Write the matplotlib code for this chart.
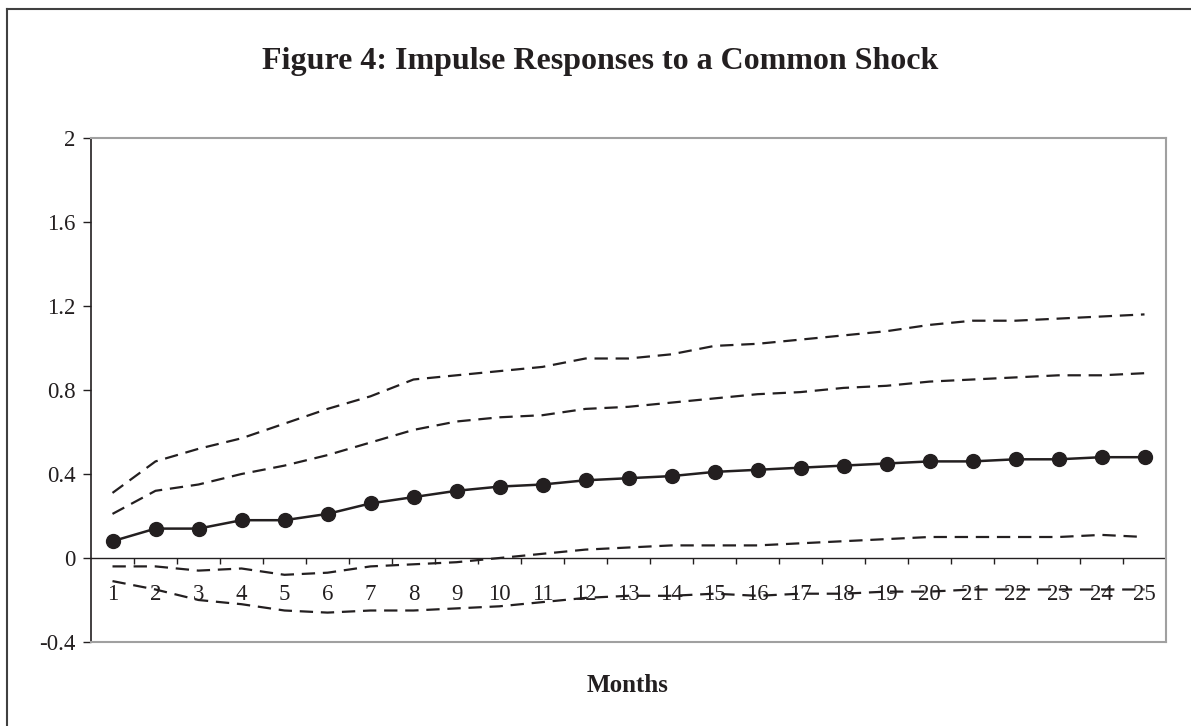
import matplotlib.pyplot as plt
import matplotlib.lines as mlines
import numpy as np

plt.rcParams['font.family'] = ['Liberation Serif', 'DejaVu Serif']

months = list(range(1, 26))
response = [0.08, 0.14, 0.14, 0.18, 0.18, 0.21, 0.26, 0.29, 0.32, 0.34, 0.35, 0.37, 0.38,
            0.39, 0.41, 0.42, 0.43, 0.44, 0.45, 0.46, 0.46, 0.47, 0.47, 0.48, 0.48]
upper_outer = [0.31, 0.46, 0.52, 0.57, 0.64, 0.71, 0.77, 0.85, 0.87, 0.89, 0.91, 0.95, 0.95,
               0.97, 1.01, 1.02, 1.04, 1.06, 1.08, 1.11, 1.13, 1.13, 1.14, 1.15, 1.16]
upper_inner = [0.21, 0.32, 0.35, 0.40, 0.44, 0.49, 0.55, 0.61, 0.65, 0.67, 0.68, 0.71, 0.72,
               0.74, 0.76, 0.78, 0.79, 0.81, 0.82, 0.84, 0.85, 0.86, 0.87, 0.87, 0.88]
lower_inner = [-0.04, -0.04, -0.06, -0.05, -0.08, -0.07, -0.04, -0.03, -0.02, 0.00, 0.02, 0.04, 0.05,
               0.06, 0.06, 0.06, 0.07, 0.08, 0.09, 0.10, 0.10, 0.10, 0.10, 0.11, 0.10]
lower_outer = [-0.11, -0.15, -0.20, -0.22, -0.25, -0.26, -0.25, -0.25, -0.24, -0.23, -0.21, -0.19, -0.18,
               -0.18, -0.17, -0.18, -0.17, -0.17, -0.16, -0.16, -0.15, -0.15, -0.15, -0.15, -0.15]
yticks = [-0.4, 0, 0.4, 0.8, 1.2, 1.6, 2]
ytick_labels = ['-0.4', '0', '0.4', '0.8', '1.2', '1.6', '2']

ink = '#231f20'
fig = plt.figure(figsize=(11.91, 7.26), dpi=100)
ax = fig.add_axes([91/1191, 84/726, 1075/1191, 504/726])

for band in [upper_outer, upper_inner, lower_inner, lower_outer]:
    ax.plot(months, band, color=ink, lw=1.6, dashes=(6, 3.5))
ax.plot(months, response, color=ink, lw=1.8, marker='o', markersize=10)

ax.set_xlim(0.5, 25.5)
ax.set_ylim(-0.4, 2)
ax.set_yticks(yticks)
ax.set_yticklabels(ytick_labels, fontsize=16.5, color=ink)
ax.tick_params(axis='y', direction='out', length=6, width=1, color=ink, pad=5)
ax.set_xticks([])

# category axis at zero with ticks between categories
ax.axhline(0, color=ink, lw=1)
ax.vlines(np.arange(1.5, 25.5, 1), -0.028, 0, color=ink, lw=1)
for m in months:
    ax.text(m, -0.175, str(m), ha='center', va='center', fontsize=16.5, color=ink)

for side in ['top', 'right', 'bottom']:
    ax.spines[side].set_color('#a0a0a0')
    ax.spines[side].set_linewidth(1.5)
ax.spines['left'].set_color(ink)
ax.spines['left'].set_linewidth(1.2)

fig.text(600/1191, 1 - 62/726, 'Figure 4: Impulse Responses to a Common Shock',
         ha='center', va='center', fontsize=23, fontweight='bold', color=ink)
fig.text(628/1191, 1 - 686/726, 'Months', ha='center', va='center',
         fontsize=18, fontweight='bold', color=ink)

# outer chart frame
fig.add_artist(mlines.Line2D([7/1191, 7/1191], [0, 1 - 9/726], color='#404040', lw=1.5))
fig.add_artist(mlines.Line2D([7/1191, 1], [1 - 9/726, 1 - 9/726], color='#404040', lw=1.5))

fig.savefig('out.png', dpi=100)
